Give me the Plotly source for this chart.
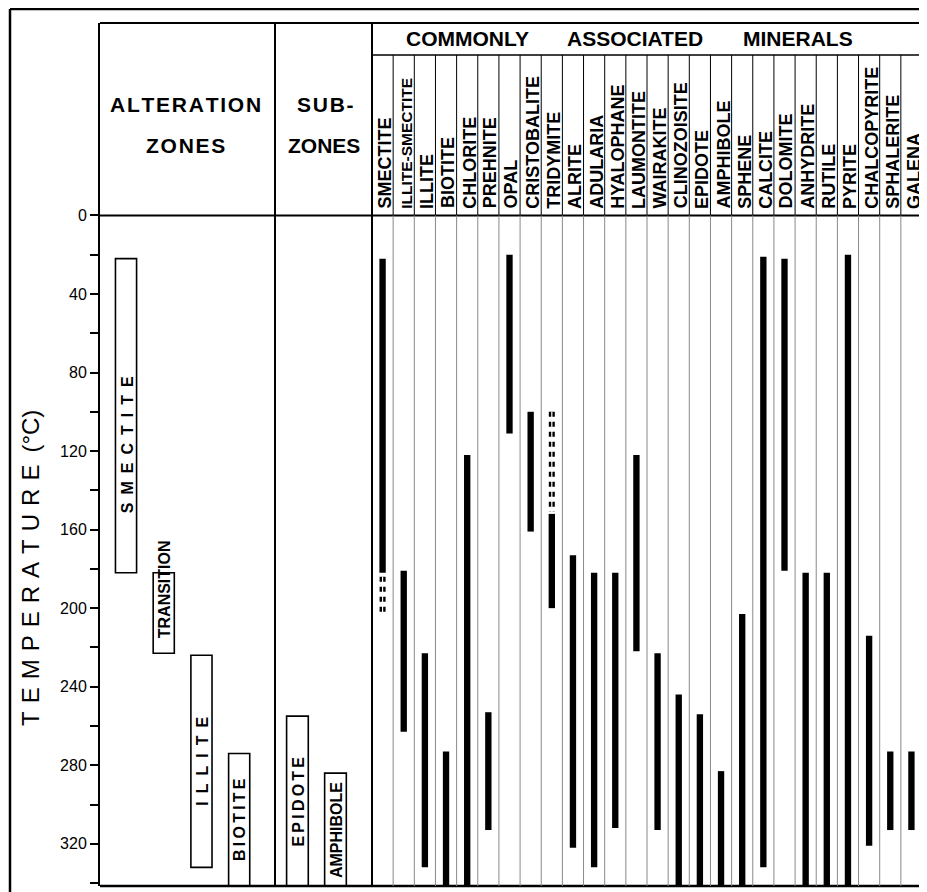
import plotly.graph_objects as go

# ---------------- data ----------------
ZONES = ["SMECTITE", "TRANSITION", "ILLITE", "BIOTITE"]
ZONE_FROM = [22, 182, 224, 274]
ZONE_TO = [182, 223, 332, 341.5]

SUBZONES = ["EPIDOTE", "AMPHIBOLE"]
SUBZONE_FROM = [255, 284]
SUBZONE_TO = [341.5, 341.5]

MINERALS = ["SMECTITE", "ILLITE-SMECTITE", "ILLITE", "BIOTITE", "CHLORITE", "PREHNITE",
            "OPAL", "CRISTOBALITE", "TRIDYMITE", "ALRITE", "ADULARIA", "HYALOPHANE",
            "LAUMONTITE", "WAIRAKITE", "CLINOZOISITE", "EPIDOTE", "AMPHIBOLE", "SPHENE",
            "CALCITE", "DOLOMITE", "ANHYDRITE", "RUTILE", "PYRITE", "CHALCOPYRITE",
            "SPHALERITE", "GALENA"]
MINERAL_FROM = [22, 181, 223, 273, 122, 253,
                20, 100, 152, 173, 182, 182,
                122, 223, 244, 254, 283, 203,
                21, 22, 182, 182, 20, 214,
                273, 273]
MINERAL_TO = [182, 263, 332, 341.5, 341.5, 313,
              111, 161, 200, 322, 332, 312,
              222, 313, 341.5, 341.5, 341.5, 341.5,
              332, 181, 341.5, 341.5, 341.5, 321,
              313, 313]

UNCERTAIN_MINERALS = ["SMECTITE", "TRIDYMITE"]
UNCERTAIN_FROM = [184, 100]
UNCERTAIN_TO = [203, 151]

TEMP_TICKS = [0, 40, 80, 120, 160, 200, 240, 280, 320]
TEMP_MINOR = [20, 60, 100, 140, 180, 220, 260, 300, 340]
T_TOP, T_BOTTOM = -98, 341.5

# ---------------- layout helpers ----------------
# page body has an 8px margin; the figure is sized/placed so that page pixels
# match the reference picture.
OFF = 8
W, H = 927 - OFF, 892 - OFF
PX_L, PX_R, PX_T, PX_B = 100, 922, 23, 886      # plot area in page pixels
PW, PH = PX_R - PX_L, PX_B - PX_T
FONT = "Liberation Sans, Arial, sans-serif"


def px_x(px):
    return (px - PX_L) / PW


def px_y(py):
    return (PX_B - py) / PH


def spaced(text, gap):
    return gap.join(list(text)) if gap else text


fig = go.Figure()

# zone boxes
fig.add_trace(go.Bar(
    x=ZONES, y=[b - a for a, b in zip(ZONE_FROM, ZONE_TO)], base=ZONE_FROM,
    width=0.56, xaxis="x", yaxis="y",
    marker=dict(color="white", line=dict(color="black", width=1.6)),
    hoverinfo="skip", showlegend=False))

fig.add_trace(go.Bar(
    x=SUBZONES, y=[b - a for a, b in zip(SUBZONE_FROM, SUBZONE_TO)], base=SUBZONE_FROM,
    width=0.57, xaxis="x2", yaxis="y",
    marker=dict(color="white", line=dict(color="black", width=1.6)),
    hoverinfo="skip", showlegend=False))

# mineral ranges
fig.add_trace(go.Bar(
    x=MINERALS, y=[b - a for a, b in zip(MINERAL_FROM, MINERAL_TO)], base=MINERAL_FROM,
    width=0.3, xaxis="x3", yaxis="y",
    marker=dict(color="black", line=dict(width=0)),
    hoverinfo="skip", showlegend=False))

# uncertain (dashed) ranges
ux, uy = [], []
for m, a, b in zip(UNCERTAIN_MINERALS, UNCERTAIN_FROM, UNCERTAIN_TO):
    ux += [m, m, None]
    uy += [a, b, None]
fig.add_trace(go.Scatter(x=ux, y=uy, mode="lines", xaxis="x3", yaxis="y",
                         line=dict(color="black", width=6, dash="5px,5px"),
                         hoverinfo="skip", showlegend=False))
fig.add_trace(go.Scatter(x=ux, y=uy, mode="lines", xaxis="x3", yaxis="y",
                         line=dict(color="white", width=1.2),
                         hoverinfo="skip", showlegend=False))

# ---------------- shapes ----------------
shapes = []
blk = dict(color="black", width=2)
# outer frame
shapes.append(dict(type="line", xref="paper", yref="paper", x0=px_x(10), x1=px_x(10),
                   y0=px_y(9), y1=px_y(900), line=dict(color="black", width=2.5)))
shapes.append(dict(type="line", xref="paper", yref="paper", x0=px_x(10), x1=px_x(935),
                   y0=px_y(9), y1=px_y(9), line=dict(color="black", width=2.5)))
# table border
shapes.append(dict(type="line", xref="paper", yref="paper", x0=0, x1=1, y0=1, y1=1, line=blk))
shapes.append(dict(type="line", xref="paper", yref="paper", x0=1, x1=1, y0=0, y1=1, line=blk))
shapes.append(dict(type="line", xref="paper", yref="paper", x0=0, x1=1, y0=0, y1=0,
                   line=dict(color="black", width=2.5)))
for px in (275, 372):
    shapes.append(dict(type="line", xref="paper", yref="paper", x0=px_x(px), x1=px_x(px),
                       y0=0, y1=1, line=blk))
# header row divider
shapes.append(dict(type="line", xref="paper", yref="paper", x0=px_x(372), x1=1,
                   y0=px_y(55), y1=px_y(55), line=dict(color="black", width=1.6)))
# zero line
shapes.append(dict(type="line", xref="paper", yref="y", x0=0, x1=1, y0=0, y1=0, line=blk))
# mineral column dividers
for i in range(1, len(MINERALS)):
    shapes.append(dict(type="line", xref="x3", yref="paper", x0=i - 0.5, x1=i - 0.5,
                       y0=px_y(55), y1=px_y(215), line=dict(color="black", width=1)))
    shapes.append(dict(type="line", xref="x3", yref="y", x0=i - 0.5, x1=i - 0.5,
                       y0=0, y1=T_BOTTOM, line=dict(color="#8a8a8a", width=1)))

# ---------------- annotations ----------------
ann = []
for txt, cx, cy, gap in [("ALTERATION", 185, 105, "\u200a"), ("ZONES", 185, 145, "\u200a"),
                         ("SUB-", 325, 105, "\u200a"), ("ZONES", 324, 145, ""),
                         ("COMMONLY", 467, 39, ""), ("ASSOCIATED", 635, 39, ""),
                         ("MINERALS", 798, 39, "")]:
    ann.append(dict(text="<b>" + spaced(txt, gap) + "</b>", xref="paper", yref="paper",
                    x=px_x(cx), y=px_y(cy), xanchor="center", yanchor="middle",
                    showarrow=False, font=dict(family=FONT, size=21, color="black")))

# mineral column labels
for m in MINERALS:
    size = 18 if len(m) <= 12 else 15.5
    ann.append(dict(text="<b>" + m + "</b>", xref="x3", yref="y", x=m, y=-2.5,
                    xanchor="center", yanchor="bottom", textangle=-90, showarrow=False,
                    xshift=2, font=dict(family=FONT, size=size, color="black")))

# zone labels
LABEL_GAP = {"SMECTITE": "\u2002", "ILLITE": "\u2002", "BIOTITE": "\u2009", "EPIDOTE": "\u2009"}
LABEL_SHIFT = {"SMECTITE": 15, "TRANSITION": -12}
for names, starts, ends, ax in [(ZONES, ZONE_FROM, ZONE_TO, "x"),
                                (SUBZONES, SUBZONE_FROM, SUBZONE_TO, "x2")]:
    for n, a, b in zip(names, starts, ends):
        ann.append(dict(text="<b>" + spaced(n, LABEL_GAP.get(n, "")) + "</b>",
                        xref=ax, yref="y", x=n, y=(a + b) / 2 + LABEL_SHIFT.get(n, 0),
                        xanchor="center", yanchor="middle", textangle=-90,
                        showarrow=False, xshift=1,
                        font=dict(family=FONT, size=16, color="black")))

# y-axis title
ann.append(dict(text=spaced("TEMPERATURE", "\u2004") + "\u2004\u2006" + "(°C)",
                xref="paper", yref="paper", x=px_x(31), y=px_y(568),
                xanchor="center", yanchor="middle", textangle=-90, showarrow=False,
                font=dict(family=FONT, size=24, color="black")))

hidden_x = dict(visible=False, showgrid=False, zeroline=False, fixedrange=True)
fig.update_layout(
    width=W, height=H,
    margin=dict(l=PX_L - OFF, r=W - (PX_R - OFF), t=PX_T - OFF, b=H - (PX_B - OFF)),
    paper_bgcolor="white", plot_bgcolor="white",
    showlegend=False, barmode="overlay",
    xaxis=dict(domain=[0, px_x(275)], range=[-0.69, 3.95], type="category",
               categoryorder="array", categoryarray=ZONES, anchor="y", **hidden_x),
    xaxis2=dict(domain=[px_x(275), px_x(372)], range=[-0.59, 1.96], type="category",
                categoryorder="array", categoryarray=SUBZONES, anchor="y", **hidden_x),
    xaxis3=dict(domain=[px_x(372), 1], range=[-0.5, len(MINERALS) - 0.5], type="category",
                categoryorder="array", categoryarray=MINERALS, anchor="y", **hidden_x),
    yaxis=dict(range=[T_BOTTOM, T_TOP], anchor="x", tickmode="array", tickvals=TEMP_TICKS,
               ticktext=[str(v) for v in TEMP_TICKS], ticks="outside", ticklen=8,
               tickwidth=1.5, tickcolor="black", showline=True, linewidth=2,
               linecolor="black", showgrid=False, zeroline=False,
               tickfont=dict(family=FONT, size=16, color="black"),
               minor=dict(tickvals=TEMP_MINOR, ticks="outside", ticklen=8, tickwidth=1.5,
                          tickcolor="black", showgrid=False),
               fixedrange=True),
    shapes=shapes, annotations=ann,
)

fig.write_html("out.html")
